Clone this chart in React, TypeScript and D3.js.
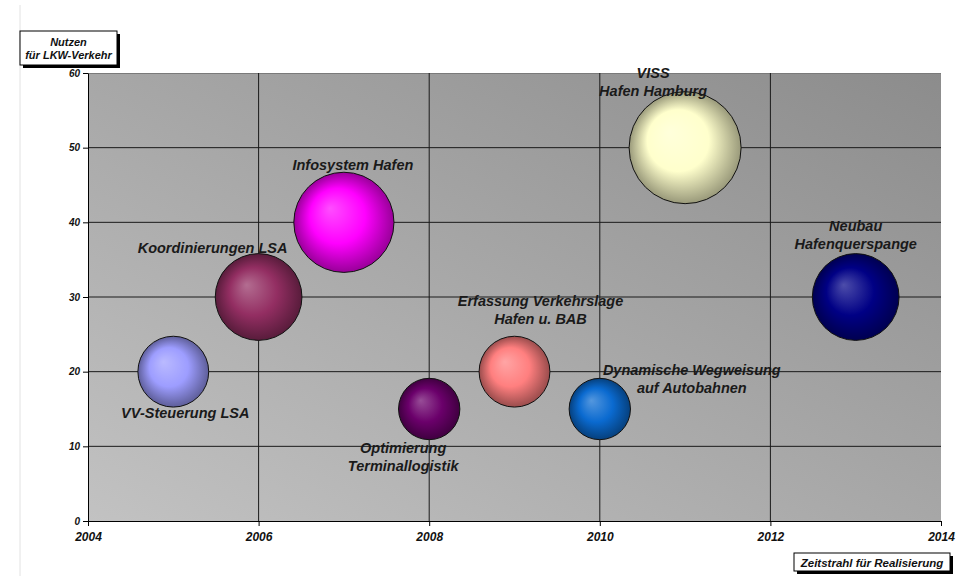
import React, { useEffect, useRef } from "react";
import * as d3 from "d3";

// projects: year of realisation, benefit for truck traffic, bubble size
const projects = [
  "VV-Steuerung LSA",
  "Koordinierungen LSA",
  "Infosystem Hafen",
  "Optimierung\nTerminallogistik",
  "Erfassung Verkehrslage\nHafen u. BAB",
  "Dynamische Wegweisung\nauf Autobahnen",
  "VISS\nHafen Hamburg",
  "Neubau\nHafenquerspange",
];
const years = [2005, 2006, 2007, 2008, 2009, 2010, 2011, 2013];
const benefit = [20, 30, 40, 15, 20, 15, 50, 30];
const sizes = [4, 6, 8, 3, 4, 3, 10, 6];
const colors = [
  "#9d9dff",
  "#932e62",
  "#ff00ff",
  "#6b006b",
  "#ff7f7f",
  "#0a6ad0",
  "#ffffcc",
  "#000085",
];
const xTicks = [2004, 2006, 2008, 2010, 2012, 2014];
const yTicks = [0, 10, 20, 30, 40, 50, 60];

// label offsets from bubble centre (px)
const labelPos = [
  { dx: 12, dy: 46 },
  { dx: -46, dy: -44 },
  { dx: 9, dy: -52 },
  { dx: -26, dy: 44 },
  { dx: 26, dy: -66 },
  { dx: 92, dy: -34 },
  { dx: -32, dy: -70 },
  { dx: 0, dy: -66 },
];

const width = 964;
const height = 576;
const left = 88;
const right = 941;
const top = 73;
const bottom = 521;
const font = "'Liberation Sans', Arial, sans-serif";

export default function App() {
  const axisRef = useRef<SVGGElement | null>(null);

  const x = d3.scaleLinear().domain([2004, 2014]).range([left, right]);
  const y = d3.scaleLinear().domain([0, 60]).range([bottom, top]);
  const r = d3.scaleSqrt().domain([0, 10]).range([0, 56]);

  useEffect(() => {
    const g = d3.select(axisRef.current);
    g.selectAll("*").remove();

    g.append("g")
      .attr("transform", `translate(0,${bottom})`)
      .call(
        d3
          .axisBottom(x)
          .tickValues(xTicks)
          .tickFormat((d) => String(d))
          .tickSize(5)
          .tickPadding(6)
          .tickSizeOuter(0)
      )
      .call((s) => s.selectAll("path,line").attr("stroke", "#000"))
      .call((s) =>
        s
          .selectAll("text")
          .attr("font-size", 12)
          .attr("font-weight", "bold")
          .attr("font-style", "italic")
          .attr("font-family", font)
          .attr("fill", "#111")
      );

    g.append("g")
      .attr("transform", `translate(${left},0)`)
      .call(
        d3
          .axisLeft(y)
          .tickValues(yTicks)
          .tickSize(5)
          .tickPadding(3)
          .tickSizeOuter(0)
      )
      .call((s) => s.selectAll("path,line").attr("stroke", "#000"))
      .call((s) =>
        s
          .selectAll("text")
          .attr("font-size", 10)
          .attr("font-weight", "bold")
          .attr("font-style", "italic")
          .attr("font-family", font)
          .attr("fill", "#111")
      );
  }, []);

  return (
    <svg
      width={width}
      height={height}
      style={{ position: "absolute", left: 0, top: 0, background: "#fff" }}
    >
      <defs>
        <linearGradient id="bg" x1="0" y1="1" x2="1" y2="0">
          <stop offset="0%" stopColor="#c2c2c2" />
          <stop offset="100%" stopColor="#8c8c8c" />
        </linearGradient>
        {colors.map((c, i) => (
          <radialGradient key={i} id={`ball${i}`} cx="0.5" cy="0.5" r="0.5" fx="0.36" fy="0.36">
            <stop offset="0%" stopColor={d3.interpolateRgb(c, "#fff")(0.3)} />
            <stop offset="55%" stopColor={c} />
            <stop offset="100%" stopColor={d3.interpolateRgb(c, "#000")(0.4)} />
          </radialGradient>
        ))}
      </defs>

      <line x1={20} y1={5} x2={20} y2={height} stroke="#e2e2e2" />

      <rect x={left} y={top} width={right - left} height={bottom - top} fill="url(#bg)" />
      <line x1={left} x2={right} y1={top + 0.5} y2={top + 0.5} stroke="#7a7a7a" />

      {yTicks
        .filter((t) => t > 0 && t < 60)
        .map((t) => (
          <line key={t} x1={left} x2={right} y1={y(t)} y2={y(t)} stroke="#1a1a1a" />
        ))}
      {xTicks
        .filter((t) => t > 2004 && t < 2014)
        .map((t) => (
          <line key={t} x1={x(t)} x2={x(t)} y1={top} y2={bottom} stroke="#1a1a1a" />
        ))}

      <g ref={axisRef} />

      {projects.map((p, i) => (
        <circle
          key={p}
          cx={x(years[i])}
          cy={y(benefit[i])}
          r={r(sizes[i])}
          fill={`url(#ball${i})`}
          stroke="#111"
          strokeWidth={1}
        />
      ))}

      {projects.map((p, i) => {
        const lines = p.split("\n");
        const lx = x(years[i]) + labelPos[i].dx;
        return (
          <text
            key={p}
            x={lx}
            y={y(benefit[i]) + labelPos[i].dy}
            textAnchor="middle"
            fontFamily={font}
            fontSize={14.5}
            fontWeight="bold"
            fontStyle="italic"
            fill="#1a1a1a"
          >
            {lines.map((l, j) => (
              <tspan key={j} x={lx} dy={j === 0 ? 0 : 18}>
                {l}
              </tspan>
            ))}
          </text>
        );
      })}

      {/* y axis title box */}
      <rect x={23} y={34} width={97} height={34} fill="#000" />
      <rect x={20} y={31} width={97} height={34} fill="#fff" stroke="#000" />
      <text
        x={68.5}
        y={46}
        textAnchor="middle"
        fontFamily={font}
        fontSize={11}
        fontWeight="bold"
        fontStyle="italic"
        fill="#111"
      >
        <tspan x={68.5}>Nutzen</tspan>
        <tspan x={68.5} dy={12.5}>für LKW-Verkehr</tspan>
      </text>

      {/* x axis title box */}
      <rect x={797} y={556} width={156} height={18} fill="#000" />
      <rect x={794} y={553} width={156} height={18} fill="#fff" stroke="#000" />
      <text
        x={872}
        y={566.5}
        textAnchor="middle"
        fontFamily={font}
        fontSize={11.5}
        fontWeight="bold"
        fontStyle="italic"
        fill="#111"
      >
        Zeitstrahl für Realisierung
      </text>
    </svg>
  );
}
